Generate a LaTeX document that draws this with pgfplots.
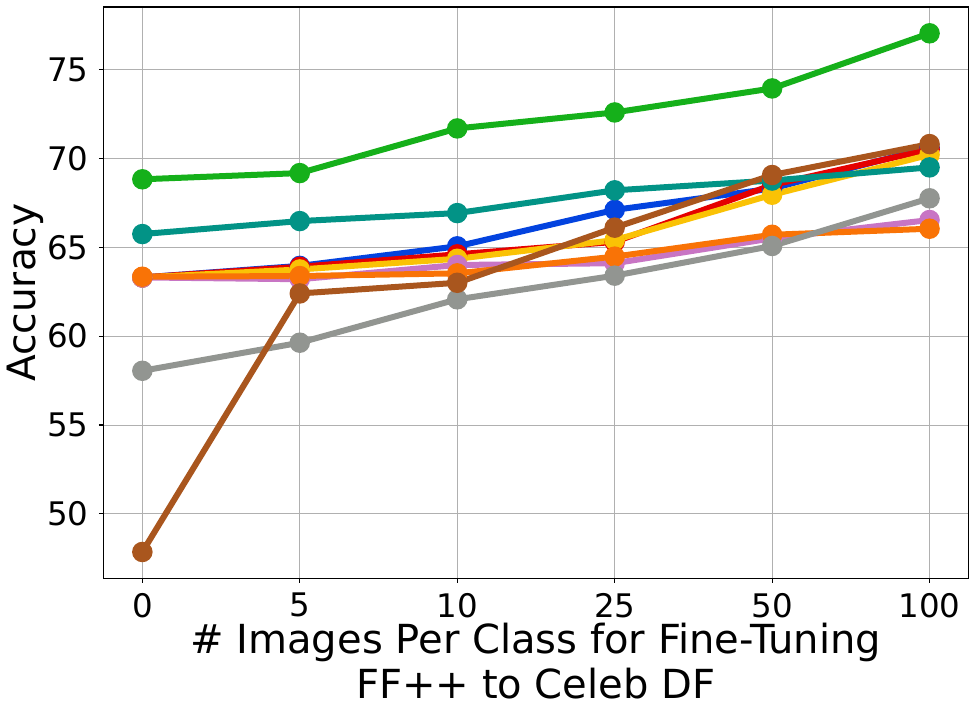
\documentclass[border=0pt]{standalone}
\usepackage{pgfplots}
\pgfplotsset{compat=1.18}
\usepackage{fontspec}
\setmainfont{DejaVu Sans}
\definecolor{cgreen}{HTML}{15B01A}
\definecolor{cteal}{HTML}{029386}
\definecolor{cblue}{HTML}{0343DF}
\definecolor{cred}{HTML}{E50000}
\definecolor{cyellow}{HTML}{FAC205}
\definecolor{corchid}{HTML}{C875C4}
\definecolor{corange}{HTML}{F97306}
\definecolor{cgrey}{HTML}{929591}
\definecolor{cbrown}{HTML}{A9561E}
\definecolor{cgrid}{HTML}{B0B0B0}
\begin{document}
\begin{tikzpicture}
\begin{axis}[
  name=ax,
  scale only axis,
  width=865bp, height=571.3bp,
  xmin=-0.248, xmax=5.246,
  ymin=46.38, ymax=78.51,
  xtick={0,1,2,3,4,5},
  xticklabels={0,5,10,25,50,100},
  ytick={50,55,60,65,70,75},
  /pgf/number format/assume math mode=true,
  grid=major,
  major grid style={cgrid, line width=0.9bp},
  axis line style={black, line width=1.1bp},
  tick style={black, line width=1.1bp},
  tick align=outside,
  major tick length=4.5bp,
  xtick pos=bottom, ytick pos=left,
  ticklabel style={font=\fontsize{32.6}{38}\selectfont, inner sep=0pt},
  xticklabel style={yshift=-10bp},
  yticklabel style={xshift=-10bp},
  xlabel={\# Images Per Class for Fine-Tuning\\FF++ to Celeb DF},
  xlabel style={font=\fontsize{40.2}{45.5}\selectfont, align=center, anchor=north, inner sep=0pt, at={(rel axis cs:0.5,-0.0775)}},
  ylabel={Accuracy},
  ylabel style={font=\fontsize{39.2}{45.2}\selectfont, anchor=south, inner sep=0pt, rotate=0, at={(rel axis cs:-0.0685,0.5)}},
  every axis plot/.append style={line width=6bp, mark=*, mark size=7.2bp, mark options={solid}},
]
\addplot[cblue, mark options={fill=cblue}] coordinates {(0,63.3) (1,63.95) (2,65.05) (3,67.1) (4,68.3) (5,70.6)};
\addplot[cred, mark options={fill=cred}] coordinates {(0,63.3) (1,63.9) (2,64.6) (3,65.3) (4,68.5) (5,70.5)};
\addplot[cyellow, mark options={fill=cyellow}] coordinates {(0,63.3) (1,63.75) (2,64.35) (3,65.4) (4,67.95) (5,70.2)};
\addplot[cgreen, mark options={fill=cgreen}] coordinates {(0,68.82) (1,69.17) (2,71.68) (3,72.58) (4,73.93) (5,77.03)};
\addplot[cteal, mark options={fill=cteal}] coordinates {(0,65.74) (1,66.47) (2,66.92) (3,68.2) (4,68.75) (5,69.49)};
\addplot[corchid, mark options={fill=corchid}] coordinates {(0,63.3) (1,63.2) (2,64.0) (3,64.1) (4,65.5) (5,66.53)};
\addplot[corange, mark options={fill=corange}] coordinates {(0,63.34) (1,63.38) (2,63.53) (3,64.47) (4,65.7) (5,66.04)};
\addplot[cgrey, mark options={fill=cgrey}] coordinates {(0,58.05) (1,59.63) (2,62.07) (3,63.4) (4,65.07) (5,67.75)};
\addplot[cbrown, mark options={fill=cbrown}] coordinates {(0,47.86) (1,62.4) (2,63.0) (3,66.1) (4,69.06) (5,70.8)};
\end{axis}
\pgfresetboundingbox
\path[use as bounding box] ([shift={(-103.3bp,-137.7bp)}]ax.south west) rectangle ([shift={(5.7bp,7bp)}]ax.north east);
\end{tikzpicture}
\end{document}
